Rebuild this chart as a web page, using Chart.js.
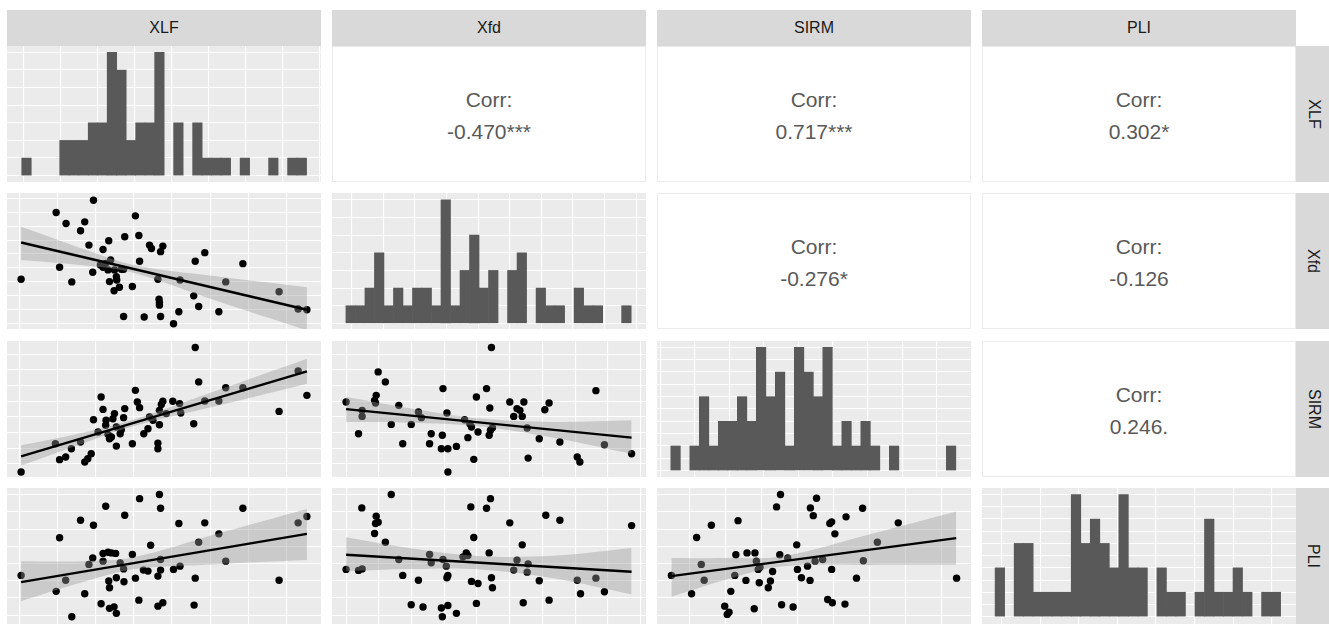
<!DOCTYPE html>
<html>
<head>
<meta charset="utf-8">
<script src="https://cdn.jsdelivr.net/npm/chart.js@4.4.1/dist/chart.umd.min.js"></script>
<style>
html, body { margin: 0; padding: 0; background: #fff; overflow: hidden; }
body { width: 1329px; height: 624px; position: relative; font-family: "Liberation Sans", Arial, sans-serif; }
.strip { position: absolute; background: #d9d9d9; color: #1a1a1a; font-size: 16px; display: flex; align-items: center; justify-content: center; }
.strip.side span { display: block; transform: rotate(90deg); white-space: nowrap; }
.corr { position: absolute; background: #fff; border: 1px solid #ebebeb; box-sizing: border-box; color: #595959; font-size: 21px;
        display: flex; flex-direction: column; align-items: center; justify-content: center; padding-top: 3px; }
.corr div { line-height: 32px; }
canvas { position: absolute; }
</style>
</head>
<body>
<script>
// variables and correlation labels (upper triangle, row/col)
var varNames = ['XLF', 'Xfd', 'SIRM', 'PLI'];
var corrCells = [[0, 1], [0, 2], [0, 3], [1, 2], [1, 3], [2, 3]];
var corrText = ['-0.470***', '0.717***', '0.302*', '-0.276*', '-0.126', '0.246.'];

// histogram counts (30 bins each)
var histXLF  = [1,0,0,0,2,2,2,3,3,7,6,2,3,3,7,0,3,0,3,1,1,1,0,1,0,0,1,0,1,1];
var histXfd  = [1,1,2,4,1,2,1,2,2,1,7,1,3,5,2,3,0,3,4,0,2,1,1,0,2,1,1,0,0,1];
var histSIRM = [1,0,1,3,1,2,2,3,2,5,3,4,1,5,4,3,5,1,2,1,2,1,0,1,0,0,0,0,0,1];
var histPLI  = [2,0,3,3,1,1,1,1,5,3,4,3,2,5,2,2,0,2,1,1,0,1,4,1,1,2,1,0,1,1];
// bin start and width per variable
var histStart = [-0.06, -0.18, 0.31, -0.17];
var histWidth = [0.2573, 0.3007, 0.2747, 0.2467];

// scatter points [x, y]
var xfdVsXlf = [[0.04,3.19],[0.96,7.98],[1.22,7.19],[1.71,7.31],[1.60,6.67],[1.94,8.86],[1.82,5.64],[1.05,4.05],[1.37,3.00],[1.92,3.69],[2.19,5.33],[2.34,5.95],[2.39,4.57],[2.19,4.05],[2.32,3.86],[2.49,3.86],[2.54,3.38],[2.36,3.02],[2.55,3.14],[2.62,2.62],[2.48,2.36],[2.76,6.24],[2.73,3.90],[2.96,2.67],[3.04,7.74],[3.13,6.33],[3.15,4.48],[3.41,5.64],[3.46,5.40],[3.76,5.57],[3.70,5.17],[3.63,3.19],[3.66,1.76],[3.67,1.52],[3.67,1.33],[2.73,0.52],[3.27,0.48],[3.70,0.52],[4.04,0.00],[4.18,0.86],[4.21,3.14],[4.57,2.00],[4.70,1.24],[4.61,4.48],[4.86,5.10],[5.23,0.86],[5.41,3.00],[5.86,4.31],[6.81,2.29],[7.31,1.05],[7.54,1.00],[2.26,4.33],[2.12,4.21],[2.67,3.90]];
var sirmVsXlf = [[0.04,-0.53],[1.05,0.26],[1.21,0.43],[0.94,1.28],[1.36,0.96],[1.60,1.39],[1.71,0.11],[1.79,0.32],[1.88,0.64],[1.94,2.82],[2.14,4.27],[2.19,3.48],[2.26,2.46],[2.32,1.88],[2.36,1.60],[2.45,2.88],[2.49,3.21],[2.54,2.35],[2.54,1.13],[2.64,1.92],[2.67,2.18],[2.76,3.53],[2.73,2.95],[2.96,1.28],[3.04,4.70],[3.09,3.95],[3.15,3.59],[3.26,1.92],[3.37,2.24],[3.41,2.99],[3.63,1.32],[3.63,0.96],[3.67,2.50],[3.67,3.42],[3.72,3.80],[3.76,4.00],[4.02,4.00],[4.20,3.85],[4.23,3.25],[4.57,2.56],[4.61,7.44],[4.70,5.24],[4.86,4.02],[5.23,4.02],[5.41,4.87],[5.86,4.87],[6.81,3.35],[7.31,5.94],[7.54,4.38],[3.50,2.78],[3.85,3.21],[2.27,2.78],[2.06,2.03],[2.41,1.71]];
var pliVsXlf = [[0.04,2.31],[0.96,1.38],[1.05,4.50],[1.21,2.03],[1.37,-0.10],[1.60,5.52],[1.71,1.24],[1.82,2.95],[1.92,3.33],[1.94,5.23],[2.14,0.66],[2.19,3.14],[2.19,3.59],[2.26,6.34],[2.32,3.66],[2.34,1.98],[2.36,1.59],[2.36,0.39],[2.48,0.48],[2.52,3.59],[2.54,0.10],[2.54,2.17],[2.64,3.04],[2.73,2.69],[2.74,1.94],[2.76,5.81],[2.96,3.53],[3.04,2.15],[3.13,0.87],[3.15,6.78],[3.25,2.62],[3.37,2.56],[3.44,4.07],[3.63,2.27],[3.63,0.52],[3.67,7.02],[3.70,6.22],[3.70,3.24],[3.70,2.62],[3.76,0.72],[4.04,2.66],[4.18,5.33],[4.21,2.85],[4.61,2.15],[4.58,0.58],[4.70,4.24],[4.86,5.37],[5.23,4.73],[5.41,3.14],[5.86,6.22],[6.81,2.03],[7.31,5.37],[7.54,5.74],[2.41,3.62]];
var sirmVsXfd = [[0.00,3.95],[0.38,1.92],[0.49,3.42],[0.49,3.03],[0.87,4.06],[0.92,4.38],[0.90,3.89],[0.98,5.88],[1.20,5.24],[1.38,2.52],[1.61,3.74],[1.73,1.28],[1.99,2.52],[2.21,3.31],[2.30,2.95],[2.55,1.28],[2.60,1.92],[2.91,0.96],[2.94,1.82],[2.96,4.81],[3.08,3.25],[3.11,0.96],[3.11,-0.53],[3.37,1.11],[3.62,2.82],[3.72,1.67],[3.83,2.35],[3.90,0.28],[3.98,4.27],[4.03,2.03],[4.29,4.81],[4.37,1.82],[4.39,3.57],[4.41,2.14],[4.44,7.44],[4.47,2.31],[5.00,3.95],[5.12,3.03],[5.22,3.53],[5.38,3.03],[5.43,3.95],[5.53,2.29],[5.56,0.36],[5.90,1.60],[6.07,3.46],[6.20,3.89],[6.53,1.39],[7.06,0.43],[7.14,0.11],[7.63,4.68],[7.89,1.22],[8.72,0.64],[3.78,2.56],[5.31,3.42]];
var pliVsXfd = [[0.00,2.66],[0.38,2.60],[0.49,2.69],[0.48,6.24],[0.87,4.75],[0.92,5.76],[0.90,5.33],[0.98,5.41],[1.20,4.24],[1.38,7.02],[1.61,3.24],[1.73,2.31],[1.99,0.60],[2.21,2.03],[2.35,0.47],[2.55,3.53],[2.60,3.04],[2.91,0.41],[2.94,-0.10],[2.96,3.24],[3.06,2.85],[3.08,2.17],[3.11,2.31],[3.11,0.56],[3.37,0.10],[3.57,3.39],[3.67,3.62],[3.81,6.30],[3.83,1.96],[3.90,4.52],[3.98,0.68],[4.03,1.84],[4.29,6.22],[4.37,3.62],[4.41,6.78],[4.44,2.17],[4.47,1.59],[5.00,5.37],[5.12,2.62],[5.22,3.20],[5.38,4.09],[5.41,0.72],[5.53,2.50],[5.56,2.98],[5.90,2.00],[6.10,5.81],[6.20,0.87],[6.53,5.52],[7.06,2.03],[7.16,1.24],[7.63,2.15],[7.89,1.36],[8.72,5.21],[3.72,3.47]];
var pliVsSirm = [[-0.51,2.31],[0.05,1.24],[0.19,4.52],[0.32,2.95],[0.40,2.03],[0.60,5.23],[0.97,0.52],[1.04,0.04],[1.09,0.17],[1.14,1.38],[1.25,2.31],[1.28,3.51],[1.34,5.50],[1.56,2.02],[1.59,3.62],[1.81,3.62],[1.79,0.37],[1.85,3.14],[1.90,2.66],[1.93,1.88],[2.18,1.59],[2.24,1.98],[2.30,2.54],[2.41,6.30],[2.50,3.51],[2.52,7.02],[2.55,0.60],[2.72,3.33],[2.87,0.47],[2.97,4.09],[2.99,2.66],[3.10,2.17],[3.27,2.85],[3.34,2.02],[3.35,6.24],[3.43,5.79],[3.48,3.14],[3.52,6.80],[3.69,3.24],[3.83,0.91],[3.89,5.33],[3.94,2.66],[3.96,0.72],[4.03,4.73],[3.94,5.43],[4.31,0.64],[4.34,5.72],[4.63,2.15],[4.80,6.22],[4.82,3.16],[5.21,4.24],[5.79,5.37],[7.41,2.15],[1.95,2.79]];

// fitted line end points and confidence band [x, lower, upper]
var fitXfdVsXlf = [[0.04,5.83],[7.54,1.00]];
var bandXfdVsXlf = [[0.04,4.57,6.95],[1.66,4.19,5.38],[3.00,3.64,4.21],[5.16,1.64,3.40],[7.54,-0.48,2.62]];
var fitSirmVsXlf = [[0.04,0.47],[7.54,5.92]];
var bandSirmVsXlf = [[0.04,-0.11,1.18],[1.66,1.30,1.99],[3.00,2.41,2.84],[5.16,3.70,4.68],[7.54,5.13,6.73]];
var fitPliVsXlf = [[0.04,1.92],[7.54,4.73]];
var bandPliVsXlf = [[0.04,0.81,3.14],[1.66,1.92,3.14],[3.00,2.67,3.37],[5.16,2.96,4.72],[7.54,3.20,6.18]];
var fitSirmVsXfd = [[0.00,3.50],[8.72,1.67]];
var bandSirmVsXfd = [[0.00,2.67,4.27],[1.94,2.63,3.56],[4.00,2.41,2.92],[6.33,1.67,2.68],[8.72,0.64,2.78]];
var fitPliVsXfd = [[0.00,3.51],[8.72,2.52]];
var bandPliVsXfd = [[0.00,2.56,4.53],[1.94,2.68,3.90],[4.00,2.67,3.44],[6.33,2.14,3.45],[8.72,1.20,3.90]];
var fitPliVsSirm = [[-0.51,2.27],[7.40,4.48]];
var bandPliVsSirm = [[-0.51,1.07,3.33],[0.93,2.02,3.32],[2.59,2.84,3.43],[5.00,2.92,4.70],[7.40,2.93,6.03]];

// axis limits
var scatterX = [[-0.33, 7.91], [-0.43, 9.16], [-0.91, 7.81]];
var scatterY = [null, [-0.38, 9.38], [-0.85, 7.86], [-0.52, 7.40]];
var histX = [[-0.46, 8.05], [-0.62, 9.31], [-0.09, 8.99], [-0.51, 7.63]];
var histY = [[-0.36, 7.36], [-0.32, 7.39], [-0.26, 5.26], [-0.30, 5.27]];
var histYStep = [1, 1, 0.5, 0.5];

// layout
var colLeft = [7, 332, 657, 982];
var rowTop = [46, 193, 341, 488];
var panelW = 314, panelH = 136;

var panelBg = {
	id: 'panelBg',
	beforeDraw: function(chart){
		var a = chart.chartArea, ctx = chart.ctx;
		ctx.save();
		ctx.fillStyle = '#ebebeb';
		ctx.fillRect(a.left, a.top, a.right - a.left, a.bottom - a.top);
		ctx.restore();
	}
};

function gridTicks(min, max, step){
	var out = [];
	for(var v = Math.ceil(min / step) * step; v <= max + 1e-9; v += step){
		out.push({value: +v.toFixed(3)});
	}
	return out;
}

function axis(lim, step){
	return {
		type: 'linear', min: lim[0], max: lim[1], offset: false,
		ticks: {display: false},
		grid: {color: '#ffffff', lineWidth: 1.1, drawTicks: false, offset: false},
		border: {display: false},
		afterBuildTicks: function(s){ s.ticks = gridTicks(lim[0], lim[1], step); }
	};
}

function baseOptions(xAxis, yAxis){
	return {
		responsive: false, animation: false, devicePixelRatio: 1, events: [],
		layout: {padding: 0, autoPadding: false},
		plugins: {legend: {display: false}, tooltip: {enabled: false}},
		scales: {x: xAxis, y: yAxis}
	};
}

function makeCanvas(r, c){
	var cv = document.createElement('canvas');
	cv.width = panelW; cv.height = panelH;
	cv.style.left = colLeft[c] + 'px';
	cv.style.top = rowTop[r] + 'px';
	cv.style.width = panelW + 'px';
	cv.style.height = panelH + 'px';
	document.body.appendChild(cv);
	return cv;
}

function toXY(arr){
	return arr.map(function(p){ return {x: p[0], y: p[1]}; });
}

function drawHist(i, counts){
	// empty bins are left out so no hairline shows at the baseline
	var data = counts.map(function(n, k){
		return {x: histStart[i] + (k + 0.5) * histWidth[i], y: n > 0 ? n : null};
	});
	new Chart(makeCanvas(i, i), {
		type: 'bar',
		data: {datasets: [{data: data, backgroundColor: '#595959', borderWidth: 0, barPercentage: 1, categoryPercentage: 1}]},
		options: baseOptions(axis(histX[i], 1), axis(histY[i], histYStep[i])),
		plugins: [panelBg]
	});
}

function drawScatter(r, c, pts, fit, band){
	new Chart(makeCanvas(r, c), {
		type: 'scatter',
		data: {datasets: [
			{type: 'line', data: toXY(fit), borderColor: '#000', borderWidth: 2.4, pointRadius: 0, fill: false, order: 0},
			{type: 'line', data: band.map(function(b){ return {x: b[0], y: b[2]}; }), borderColor: 'rgba(0,0,0,0)', borderWidth: 0,
				pointRadius: 0, tension: 0.35, fill: '+1', backgroundColor: 'rgba(153,153,153,0.4)', order: 1},
			{type: 'line', data: band.map(function(b){ return {x: b[0], y: b[1]}; }), borderColor: 'rgba(0,0,0,0)', borderWidth: 0,
				pointRadius: 0, tension: 0.35, fill: false, order: 1},
			{data: toXY(pts), pointRadius: 3.7, backgroundColor: '#000', borderWidth: 0, order: 2}
		]},
		options: baseOptions(axis(scatterX[c], 1), axis(scatterY[r], 1)),
		plugins: [panelBg]
	});
}

function addDiv(cls, left, top, w, h){
	var d = document.createElement('div');
	d.className = cls;
	d.style.left = left + 'px'; d.style.top = top + 'px';
	d.style.width = w + 'px'; d.style.height = h + 'px';
	document.body.appendChild(d);
	return d;
}

function drawStrips(){
	varNames.forEach(function(name, i){
		addDiv('strip', colLeft[i], 10, panelW, 36).textContent = name;
		var side = addDiv('strip side', 1296, rowTop[i], 35, panelH);
		var s = document.createElement('span');
		s.textContent = name;
		side.appendChild(s);
	});
}

function drawCorr(){
	corrCells.forEach(function(cell, k){
		var d = addDiv('corr', colLeft[cell[1]], rowTop[cell[0]], panelW, panelH);
		var a = document.createElement('div'); a.textContent = 'Corr:';
		var b = document.createElement('div'); b.textContent = corrText[k];
		d.appendChild(a); d.appendChild(b);
	});
}

drawStrips();
drawCorr();
drawHist(0, histXLF);
drawHist(1, histXfd);
drawHist(2, histSIRM);
drawHist(3, histPLI);
drawScatter(1, 0, xfdVsXlf, fitXfdVsXlf, bandXfdVsXlf);
drawScatter(2, 0, sirmVsXlf, fitSirmVsXlf, bandSirmVsXlf);
drawScatter(3, 0, pliVsXlf, fitPliVsXlf, bandPliVsXlf);
drawScatter(2, 1, sirmVsXfd, fitSirmVsXfd, bandSirmVsXfd);
drawScatter(3, 1, pliVsXfd, fitPliVsXfd, bandPliVsXfd);
drawScatter(3, 2, pliVsSirm, fitPliVsSirm, bandPliVsSirm);
</script>
</body>
</html>
